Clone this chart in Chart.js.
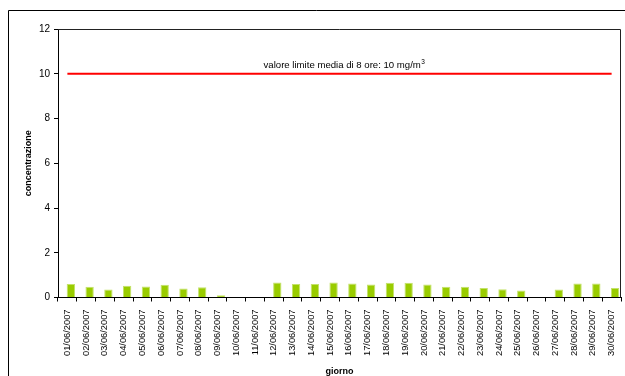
<!DOCTYPE html>
<html>
<head>
<meta charset="utf-8">
<script src="https://cdn.jsdelivr.net/npm/chart.js@4"></script>
<style>
  body { margin: 0; background: #fff; }
  canvas { display: block; }
</style>
</head>
<body>
<canvas id="chart" width="625" height="376"></canvas>
<script>
// dati di giugno 2007
const giorni = ['01/06/2007','02/06/2007','03/06/2007','04/06/2007','05/06/2007','06/06/2007',
  '07/06/2007','08/06/2007','09/06/2007','10/06/2007','11/06/2007','12/06/2007','13/06/2007',
  '14/06/2007','15/06/2007','16/06/2007','17/06/2007','18/06/2007','19/06/2007','20/06/2007',
  '21/06/2007','22/06/2007','23/06/2007','24/06/2007','25/06/2007','26/06/2007','27/06/2007',
  '28/06/2007','29/06/2007','30/06/2007'];
const concentrazione = [0.60, 0.48, 0.36, 0.52, 0.49, 0.57, 0.40, 0.46, 0.10, 0, 0, 0.67, 0.60,
  0.60, 0.67, 0.63, 0.58, 0.66, 0.66, 0.58, 0.48, 0.48, 0.42, 0.37, 0.31, 0, 0.36, 0.63, 0.63, 0.42];
const serieVuota = [null, null, null, null, null, null, null, null, null, null, null, null, null, null, null,
  null, null, null, null, null, null, null, null, null, null, null, null, null, null, null];
const limite = [10, 10, 10, 10, 10, 10, 10, 10, 10, 10, 10, 10, 10, 10, 10,
  10, 10, 10, 10, 10, 10, 10, 10, 10, 10, 10, 10, 10, 10, 10];
const yMin = 0, yMax = 12, yStep = 2;
const testoLimite = 'valore limite media di 8 ore: 10 mg/m';

const FONT = "'Liberation Sans', Arial, sans-serif";

const cornice = {
  id: 'cornice',
  afterDraw(chart) {
    const ctx = chart.ctx;
    const a = chart.chartArea;
    ctx.save();
    // cornice esterna
    ctx.strokeStyle = '#000';
    ctx.lineWidth = 1;
    ctx.beginPath();
    ctx.moveTo(8.5, 376);
    ctx.lineTo(8.5, 10.5);
    ctx.lineTo(625, 10.5);
    ctx.stroke();
    // bordo area del grafico
    ctx.strokeStyle = '#222';
    ctx.beginPath();
    ctx.moveTo(a.left, Math.round(a.top) + 0.5);
    ctx.lineTo(Math.round(a.right) - 0.5, Math.round(a.top) + 0.5);
    ctx.lineTo(Math.round(a.right) - 0.5, a.bottom);
    ctx.stroke();
    // etichetta del limite
    const y = chart.scales.y.getPixelForValue(10) - 6;
    ctx.fillStyle = '#000';
    ctx.font = '9.6px ' + FONT;
    ctx.textBaseline = 'alphabetic';
    const w = ctx.measureText(testoLimite).width;
    ctx.font = '6.5px ' + FONT;
    const w3 = ctx.measureText('3').width;
    const x0 = 344 - (w + w3) / 2;
    ctx.font = '9.6px ' + FONT;
    ctx.textAlign = 'left';
    ctx.fillText(testoLimite, x0, y);
    ctx.font = '6.5px ' + FONT;
    ctx.fillText('3', x0 + w + 0.5, y - 4);
    ctx.restore();
  }
};

new Chart(document.getElementById('chart'), {
  data: {
    labels: giorni,
    datasets: [
      { type: 'bar', data: serieVuota, backgroundColor: '#99cc00' },
      { type: 'bar', data: concentrazione, backgroundColor: '#99cc00',
        borderColor: '#c4e26a', borderWidth: 1, borderSkipped: 'bottom' },
      { type: 'line', data: limite, borderColor: '#ff0000', borderWidth: 2,
        pointRadius: 0, fill: false, order: -1 }
    ]
  },
  options: {
    responsive: false,
    animation: false,
    categoryPercentage: 0.74,
    barPercentage: 1.2,
    layout: { padding: { left: 8, top: 29, right: 4, bottom: 0 } },
    plugins: { legend: { display: false }, tooltip: { enabled: false } },
    scales: {
      x: {
        afterFit: s => { s.height = 78.5; s.paddingLeft = 0; s.paddingRight = 0; },
        grid: { display: true, drawOnChartArea: false, tickLength: 4, color: '#000', offset: true },
        border: { display: true, color: '#000' },
        ticks: { autoSkip: false, minRotation: 90, maxRotation: 90, padding: 8,
          color: '#000', font: { family: FONT, size: 9.3 } },
        title: { display: true, text: 'giorno', color: '#000', padding: 0,
          font: { family: FONT, size: 9, weight: 'bold', lineHeight: 1 } }
      },
      y: {
        min: yMin, max: yMax,
        afterFit: s => { s.width = 50; s.paddingTop = 0; s.paddingBottom = 0; },
        grid: { display: true, drawOnChartArea: false, tickLength: 4, color: '#000' },
        border: { display: true, color: '#000' },
        ticks: { stepSize: yStep, padding: 4, color: '#000', font: { family: FONT, size: 10 } },
        title: { display: true, text: 'concentrazione', color: '#000', padding: { top: 16.5, bottom: 0 },
          font: { family: FONT, size: 9, weight: 'bold', lineHeight: 1 } }
      }
    }
  },
  plugins: [cornice]
});
</script>
</body>
</html>
